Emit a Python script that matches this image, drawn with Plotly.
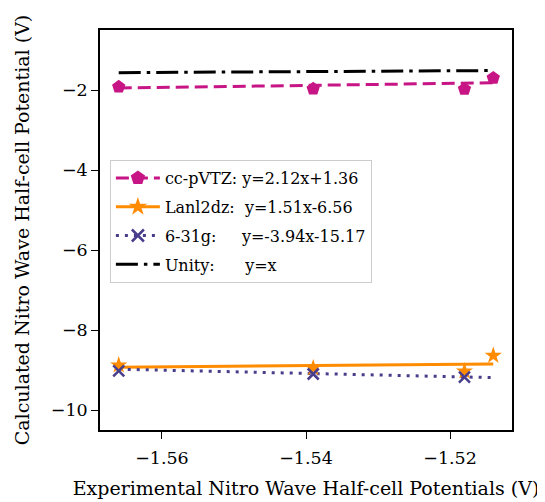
import plotly.graph_objects as go

# ---- data ----
exp_x = [-1.566, -1.539, -1.518, -1.514]
ccpvtz_y = [-1.92, -1.97, -1.98, -1.70]
lanl2dz_y = [-8.88, -8.95, -9.03, -8.64]
g631_x = [-1.566, -1.539, -1.518]
g631_y = [-9.02, -9.10, -9.18]

fit_x = [-1.566, -1.514]
ccpvtz_fit = [-1.95, -1.82]
lanl2dz_fit = [-8.93, -8.85]
g631_fit = [-8.98, -9.19]
unity_y = [-1.566, -1.514]

labels = [
    "cc-pVTZ:\u00a0y=2.12x+1.36",
    "Lanl2dz:\u00a0\u00a0y=1.51x-6.56",
    "6-31g:" + "\u00a0" * 5 + "y=-3.94x-15.17",
    "Unity:" + "\u00a0" * 6 + "y=x",
]
x_ticks = [-1.56, -1.54, -1.52]
y_ticks = [-10, -8, -6, -4, -2]

C_CC = "#C71585"
C_LA = "#FF8C00"
C_G = "#483D8B"
C_U = "#000000"
FONT = "DejaVu Serif"

fig = go.Figure()

# fit lines
fig.add_trace(go.Scatter(x=fit_x, y=ccpvtz_fit, mode="lines", showlegend=False,
                         line=dict(color=C_CC, width=3, dash="13px,6px")))
fig.add_trace(go.Scatter(x=fit_x, y=lanl2dz_fit, mode="lines", showlegend=False,
                         line=dict(color=C_LA, width=3)))
fig.add_trace(go.Scatter(x=fit_x, y=g631_fit, mode="lines", showlegend=False,
                         line=dict(color=C_G, width=3, dash="3px,6px")))
fig.add_trace(go.Scatter(x=fit_x, y=unity_y, mode="lines", showlegend=False,
                         line=dict(color=C_U, width=3, dash="22px,6px,3.5px,6px")))

# data markers
fig.add_trace(go.Scatter(x=exp_x, y=ccpvtz_y, mode="markers", showlegend=False,
                         marker=dict(symbol="pentagon", size=14, color=C_CC)))
fig.add_trace(go.Scatter(x=exp_x, y=lanl2dz_y, mode="markers", showlegend=False,
                         marker=dict(symbol="star", size=13, color=C_LA)))
fig.add_trace(go.Scatter(x=g631_x, y=g631_y, mode="markers", showlegend=False,
                         marker=dict(symbol="x-thin", size=11, color=C_G,
                                     line=dict(color=C_G, width=2.5))))

# legend entries
fig.add_trace(go.Scatter(x=[None], y=[None], mode="lines+markers", name=labels[0],
                         legendgroup="a",
                         line=dict(color=C_CC, width=3, dash="13px,6px"),
                         marker=dict(symbol="pentagon", size=15, color=C_CC)))
fig.add_trace(go.Scatter(x=[None], y=[None], mode="lines+markers", name=labels[1],
                         legendgroup="b",
                         line=dict(color=C_LA, width=3),
                         marker=dict(symbol="star", size=14, color=C_LA)))
fig.add_trace(go.Scatter(x=[None], y=[None], mode="lines+markers", name=labels[2],
                         legendgroup="c",
                         line=dict(color=C_G, width=3, dash="3px,6px"),
                         marker=dict(symbol="x-thin", size=12, color=C_G,
                                     line=dict(color=C_G, width=2.5))))
fig.add_trace(go.Scatter(x=[None], y=[None], mode="lines", name=labels[3],
                         legendgroup="d",
                         line=dict(color=C_U, width=3, dash="22px,6px,3.5px,6px")))

axis_common = dict(
    showgrid=False, zeroline=False, showline=True, mirror=True,
    linecolor="black", linewidth=1.6, ticks="outside", ticklen=7,
    tickwidth=1.4, tickcolor="black", automargin=False,
    tickfont=dict(family=FONT, size=17.5, color="black"),
)

fig.update_layout(
    width=537, height=494,
    margin=dict(l=92, r=33, t=22, b=72),
    paper_bgcolor="white", plot_bgcolor="white",
    font=dict(family=FONT, color="black"),
    xaxis=dict(range=[-1.5686, -1.5114], tickvals=x_ticks,
               tickformat=".2f", ticklabelstandoff=4,
               title=dict(text="Experimental Nitro Wave Half-cell Potentials (V)",
                          font=dict(family=FONT, size=19), standoff=15),
               **axis_common),
    yaxis=dict(range=[-10.5, -0.5], tickvals=y_ticks,
               title=dict(text="Calculated Nitro Wave Half-cell Potential (V)",
                          font=dict(family=FONT, size=19), standoff=16),
               **axis_common),
    legend=dict(x=0.024, y=0.675, xanchor="left", yanchor="top",
                bgcolor="rgba(255,255,255,0.8)", bordercolor="#cccccc",
                borderwidth=1, font=dict(family=FONT, size=16, color="black"),
                tracegroupgap=5, traceorder="grouped", itemwidth=44),
)

fig.write_html("out.html")
